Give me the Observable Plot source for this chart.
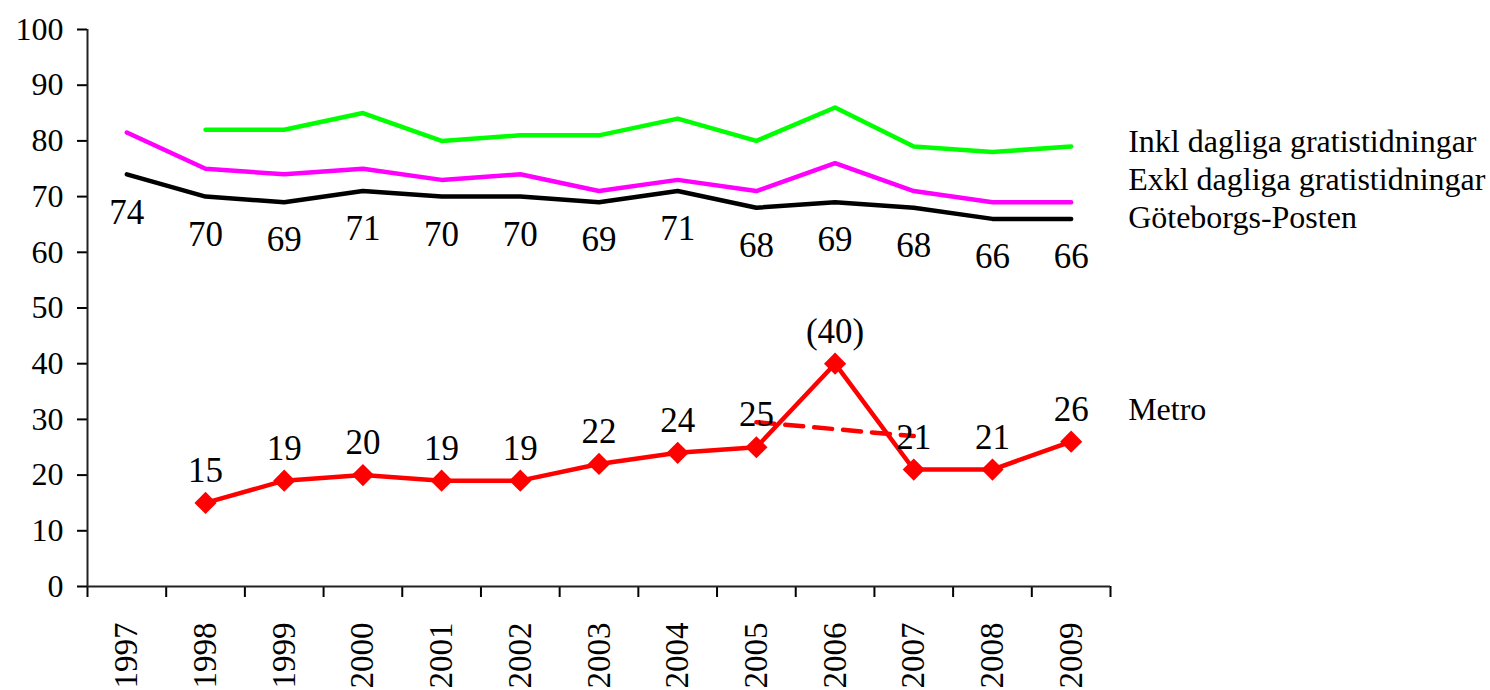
<!DOCTYPE html>
<html><head><meta charset="utf-8">
<script src="https://cdn.jsdelivr.net/npm/d3@7"></script>
<script src="https://cdn.jsdelivr.net/npm/@observablehq/plot@0.6"></script>
<style>html,body{margin:0;padding:0;background:#fff;overflow:hidden;}
svg text{font-family:"Liberation Serif","Times New Roman",serif !important;font-variant-numeric:normal !important;}</style>
</head><body><div id="chart"></div>
<script>
const years = [1997, 1998, 1999, 2000, 2001, 2002, 2003, 2004, 2005, 2006, 2007, 2008, 2009];
const inkl = [null, 82, 82, 85, 80, 81, 81, 84, 80, 86, 79, 78, 79];
const exkl = [81.5, 75, 74, 75, 73, 74, 71, 73, 71, 76, 71, 69, 69];
const gp = [74, 70, 69, 71, 70, 70, 69, 71, 68, 69, 68, 66, 66];
const metro = [null, 15, 19, 20, 19, 19, 22, 24, 25, 40, 21, 21, 26];
const gpLabels = ["74", "70", "69", "71", "70", "70", "69", "71", "68", "69", "68", "66", "66"];
const metroLabels = [null, "15", "19", "20", "19", "19", "22", "24", "25", "(40)", "21", "21", "26"];
const dashYears = [2005, 2007];
const dashValues = [29.5, 27];
const yTicks = [0, 10, 20, 30, 40, 50, 60, 70, 80, 90, 100];
const seriesNames = ["Inkl dagliga gratistidningar", "Exkl dagliga gratistidningar", "Göteborgs-Posten", "Metro"];

const rows = years.map((year, i) => ({year, inkl: inkl[i], exkl: exkl[i], gp: gp[i], metro: metro[i], gpLabel: gpLabels[i], metroLabel: metroLabels[i]}));
const metroRows = rows.filter(d => d.metro != null);
const dashRows = dashYears.map((year, i) => ({year, v: dashValues[i]}));
const boundaries = years.map(y => y - 0.5).concat([years[years.length - 1] + 0.5]);
const last = rows[rows.length - 1];
const legendRows = [
  {name: seriesNames[0], year: last.year, v: last.inkl},
  {name: seriesNames[1], year: last.year, v: last.exkl},
  {name: seriesNames[2], year: last.year, v: last.gp},
  {name: seriesNames[3], year: last.year, v: last.metro}
];
const legendDy = [-5, -22, -1, -32];
const font = "Liberation Serif";

const chart = Plot.plot({
  width: 1490,
  height: 690,
  marginLeft: 87,
  marginRight: 380,
  marginTop: 29,
  marginBottom: 104,
  style: {fontFamily: font, fontSize: "32px", color: "black", background: "white"},
  x: {type: "linear", domain: [boundaries[0], boundaries[boundaries.length - 1]]},
  y: {domain: [0, 100]},
  marks: [
    Plot.axisY({ticks: yTicks, tickSize: 10, tickPadding: 14, fontSize: 32, fontFamily: font, label: null, tickFormat: d => String(d), strokeWidth: 2}),
    Plot.axisX({ticks: boundaries, tickSize: 11, tickFormat: () => "", label: null, strokeWidth: 2}),
    Plot.axisX({ticks: years, tickSize: 0, tickPadding: 36, tickRotate: -90, fontSize: 33, fontFamily: font, label: null, tickFormat: d => String(d)}),
    Plot.ruleY([0], {stroke: "#222", strokeWidth: 2}),
    Plot.ruleX([boundaries[0]], {stroke: "#222", strokeWidth: 2}),
    Plot.line(rows, {x: "year", y: "inkl", stroke: "#00ff00", strokeWidth: 4.5}),
    Plot.line(rows, {x: "year", y: "exkl", stroke: "#ff00ff", strokeWidth: 4.5}),
    Plot.line(rows, {x: "year", y: "gp", stroke: "black", strokeWidth: 4.5}),
    Plot.line(dashRows, {x: "year", y: "v", stroke: "#ff0000", strokeWidth: 4.5, strokeDasharray: "18,11"}),
    Plot.line(rows, {x: "year", y: "metro", stroke: "#ff0000", strokeWidth: 4.5}),
    Plot.dot(metroRows, {x: "year", y: "metro", symbol: "diamond2", fill: "#ff0000", r: 10}),
    Plot.text(rows, {x: "year", y: "gp", text: "gpLabel", dy: 38, fontSize: 35, fontFamily: font, fill: "black"}),
    Plot.text(metroRows, {x: "year", y: "metro", text: "metroLabel", dy: -32, fontSize: 35, fontFamily: font, fill: "black"}),
    ...legendRows.map((d, i) => Plot.text([d], {x: "year", y: "v", text: "name", dx: 57, dy: legendDy[i], textAnchor: "start", fontSize: 32, fontFamily: font, fill: "black"}))
  ]
});
document.getElementById("chart").appendChild(chart);
</script>
</body></html>
